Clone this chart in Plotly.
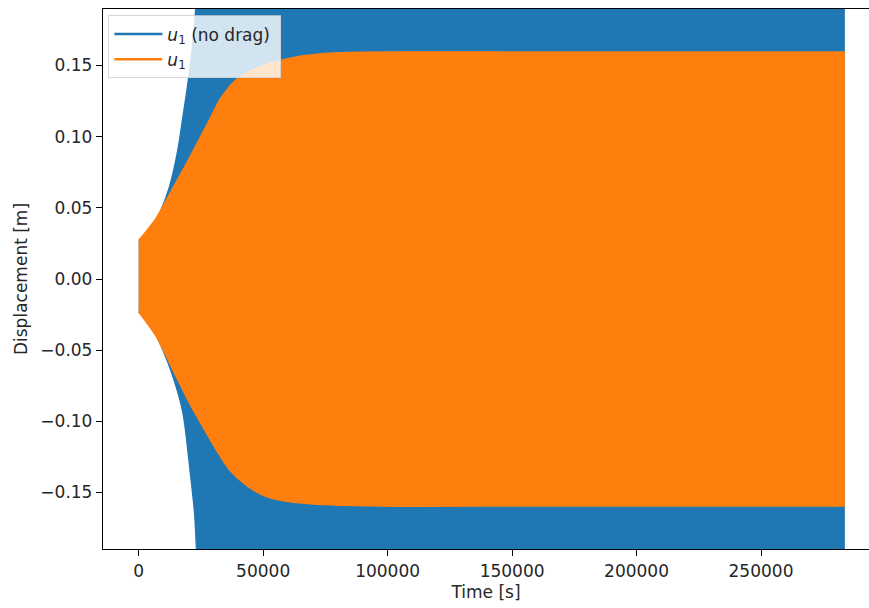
import plotly.graph_objects as go

# Envelope of the undamped response u1 (no drag): time [s], upper / lower displacement [m]
t_nodrag_up = [0, 4420, 8430, 12450, 15800, 17800, 19800, 21800, 22900, 25000, 30000, 283700]
u_nodrag_up = [0.027, 0.032, 0.046, 0.065, 0.091, 0.114, 0.1375, 0.166, 0.189, 0.24, 0.35, 0.35]
t_nodrag_lo = [0, 4420, 9770, 13800, 17800, 20500, 22500, 23200, 25000, 30000, 283700]
u_nodrag_lo = [-0.023, -0.031, -0.050, -0.0686, -0.094, -0.132, -0.165, -0.188, -0.24, -0.35, -0.35]

# Envelope of the damped response u1 (with drag)
t_drag_up = [0, 7100, 13800, 19500, 24000, 28500, 33000, 39200, 48600, 63300, 76700, 100000, 150000, 200000, 250000, 283700]
u_drag_up = [0.027, 0.043, 0.064, 0.082, 0.097, 0.112, 0.127, 0.140, 0.149, 0.156, 0.1586, 0.1595, 0.1595, 0.1595, 0.1595, 0.1595]
t_drag_lo = [0, 7100, 13800, 20500, 25800, 31200, 36500, 43200, 49900, 56600, 70000, 96800, 150000, 200000, 250000, 283700]
u_drag_lo = [-0.023, -0.0405, -0.064, -0.0874, -0.1038, -0.120, -0.134, -0.1448, -0.1518, -0.1553, -0.1581, -0.1595,
             -0.1595, -0.1595, -0.1595, -0.1595]

x_ticks = [0, 50000, 100000, 150000, 200000, 250000]
x_tick_labels = ["0", "50000", "100000", "150000", "200000", "250000"]
y_ticks = [-0.15, -0.10, -0.05, 0.00, 0.05, 0.10, 0.15]

BLUE = "#1f77b4"
ORANGE = "#ff7f0e"
FONT = "DejaVu Sans"


def edge(t, u, color, fill=None):
    """One side of an oscillation envelope; the upper side fills down to the lower one."""
    return go.Scatter(
        x=t, y=u,
        mode="lines",
        line=dict(color=color, width=1.5, shape="spline", smoothing=0.8),
        fill=fill,
        fillcolor=color,
        showlegend=False,
        hoverinfo="skip",
    )


fig = go.Figure()
fig.add_trace(edge(t_nodrag_lo, u_nodrag_lo, BLUE))
fig.add_trace(edge(t_nodrag_up, u_nodrag_up, BLUE, fill="tonexty"))
fig.add_trace(edge(t_drag_lo, u_drag_lo, ORANGE))
fig.add_trace(edge(t_drag_up, u_drag_up, ORANGE, fill="tonexty"))

# legend entries drawn as line samples
fig.add_trace(go.Scatter(x=[None], y=[None], mode="lines", line=dict(color=BLUE, width=2.5),
                         name="<i>u</i><sub>1</sub> (no drag) "))
fig.add_trace(go.Scatter(x=[None], y=[None], mode="lines", line=dict(color=ORANGE, width=2.5),
                         name="<i>u</i><sub>1</sub>"))

fig.update_layout(
    width=869,
    height=608,
    margin=dict(l=103, r=0, t=9, b=59),
    paper_bgcolor="white",
    plot_bgcolor="white",
    font=dict(family=FONT, size=17, color="#262626"),
    showlegend=True,
    legend=dict(
        x=0.007, y=0.988, xanchor="left", yanchor="top",
        bgcolor="rgba(255,255,255,0.8)",
        bordercolor="rgba(204,204,204,0.8)",
        borderwidth=1,
        font=dict(family=FONT, size=17, color="#262626"),
        itemwidth=48,
        traceorder="normal",
    ),
)

fig.update_xaxes(
    range=[-14340, 293388],
    tickvals=x_ticks,
    ticktext=x_tick_labels,
    ticks="outside",
    ticklen=6,
    tickcolor="black",
    showline=True,
    linecolor="black",
    linewidth=1.3,
    mirror=True,
    showgrid=False,
    zeroline=False,
    title=dict(text="Time [s]", standoff=6, font=dict(family=FONT, size=17)),
)
fig.update_yaxes(
    range=[-0.1897, 0.1897],
    tickvals=y_ticks,
    tickformat=".2f",
    ticks="outside",
    ticklen=6,
    tickcolor="black",
    showline=True,
    linecolor="black",
    linewidth=1.3,
    mirror=False,
    showgrid=False,
    zeroline=False,
    title=dict(text="Displacement [m]", standoff=8, font=dict(family=FONT, size=17)),
)

fig.write_html("out.html")
